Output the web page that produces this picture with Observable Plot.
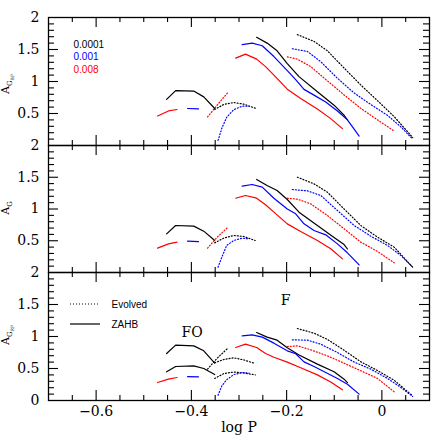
<!DOCTYPE html>
<html><head><meta charset="utf-8">
<script src="https://cdn.jsdelivr.net/npm/d3@7"></script>
<script src="https://cdn.jsdelivr.net/npm/@observablehq/plot@0.6"></script>
<style>
body{margin:0;background:#fff}
#chart{position:relative;width:436px;height:444px;background:#fff}
#chart svg{position:absolute;left:0}
</style></head><body><div id="chart"></div>
<script>
// ---------- categories ----------
const metallicities = ["0.0001", "0.001", "0.008"];
const colours = ["#000000", "#0000ff", "#ff0000"];

// ---------- axis ticks ----------
const xTickLabels = [-0.6, -0.4, -0.2, 0];
const xMinorTicks = [-0.65, -0.55, -0.5, -0.45, -0.35, -0.3, -0.25, -0.15, -0.1, -0.05, 0.05];
const yMajorTicks = [0.5, 1, 1.5];
const yMinorTicks = [0.1, 0.2, 0.3, 0.4, 0.6, 0.7, 0.8, 0.9, 1.1, 1.2, 1.3, 1.4, 1.6, 1.7, 1.8, 1.9];
const yLabelsUpper = [0.5, 1, 1.5, 2];
const yLabelsBottom = [0, 0.5, 1, 1.5, 2];

// ---------- FO mode ----------
// ZAHB, Z=0.0001
const logP_FO_ZAHB_0001 = [-0.452, -0.433, -0.395, -0.374, -0.351];
const ABP_FO_ZAHB_0001 = [0.72, 0.858, 0.85, 0.76, 0.578];
const AG_FO_ZAHB_0001 = [0.609, 0.74, 0.73, 0.651, 0.504];
const ARP_FO_ZAHB_0001 = [0.734, 0.865, 0.854, 0.776, 0.583];
const ARP_FO_ZAHB_0001_b = [0.448, 0.531, 0.542, 0.5, 0.406];
// ZAHB, Z=0.001
const logP_FO_ZAHB_001 = [-0.408, -0.385];
const ABP_FO_ZAHB_001 = [0.578, 0.572];
const AG_FO_ZAHB_001 = [0.493, 0.485];
const ARP_FO_ZAHB_001 = [0.372, 0.370];
// ZAHB, Z=0.008
const logP_FO_ZAHB_008 = [-0.471, -0.448, -0.430];
const ABP_FO_ZAHB_008 = [0.461, 0.54, 0.562];
const AG_FO_ZAHB_008 = [0.383, 0.451, 0.478];
const ARP_FO_ZAHB_008 = [0.281, 0.333, 0.359];
// Evolved, Z=0.0001
const logP_FO_EVOL_0001 = [-0.351, -0.332, -0.311, -0.29, -0.266];
const ABP_FO_EVOL_0001 = [0.562, 0.641, 0.672, 0.646, 0.583];
const AG_FO_EVOL_0001 = [0.467, 0.541, 0.583, 0.567, 0.504];
const ARP_FO_EVOL_0001 = [0.59, 0.64, 0.667, 0.634, 0.578];
const ARP_FO_EVOL_0001_b = [0.344, 0.42, 0.445, 0.43, 0.401];
// Evolved, Z=0.001
const logP_FO_EVOL_001 = [-0.344, -0.336, -0.326, -0.311, -0.293, -0.279];
const ABP_FO_EVOL_001 = [0.08, 0.27, 0.44, 0.56, 0.615, 0.612];
const AG_FO_EVOL_001 = [0.084, 0.241, 0.425, 0.504, 0.541, 0.53];
const ARP_FO_EVOL_001 = [0.083, 0.229, 0.323, 0.405, 0.437, 0.427];
// Evolved, Z=0.008
const logP_FO_EVOL_008 = [-0.366, -0.346, -0.323];
const ABP_FO_EVOL_008 = [0.446, 0.63, 0.83];
const AG_FO_EVOL_008 = [0.383, 0.556, 0.714];
const ARP_FO_EVOL_008 = [0.49, 0.66, 0.82];

// ---------- F mode ----------
const logP_F_ZAHB_0001 = [-0.263, -0.241, -0.220, -0.1986, -0.174, -0.1354, -0.1004, -0.0793, -0.0723];
const ABP_F_ZAHB_0001 = [1.69, 1.60, 1.48, 1.28, 1.076, 0.84, 0.63, 0.472, 0.40];
const AG_F_ZAHB_0001 = [1.465, 1.37, 1.291, 1.15, 0.95, 0.74, 0.55, 0.44, 0.37];
const ARP_F_ZAHB_0001 = [1.0625, 0.99, 0.943, 0.825, 0.71, 0.568, 0.448, 0.333, 0.28];

const logP_F_ZAHB_001 = [-0.2933, -0.2723, -0.2512, -0.2267, -0.1986, -0.181, -0.1635, -0.1425, -0.1179, -0.0933, -0.0723, -0.0477];
const ABP_F_ZAHB_001 = [1.575, 1.60, 1.559, 1.39, 1.17, 1.03, 0.877, 0.787, 0.68, 0.54, 0.40, 0.147];
const AG_F_ZAHB_001 = [1.36, 1.386, 1.344, 1.17, 1.0, 0.924, 0.766, 0.661, 0.593, 0.451, 0.31, 0.121];
const ARP_F_ZAHB_001 = [1.01, 1.026, 0.99, 0.896, 0.776, 0.73, 0.604, 0.531, 0.4375, 0.344, 0.255, 0.099];

const logP_F_ZAHB_008 = [-0.307, -0.2863, -0.263, -0.2442, -0.2267, -0.1986, -0.1705, -0.1354, -0.1074, -0.0828];
const ABP_F_ZAHB_008 = [1.365, 1.428, 1.35, 1.233, 1.10, 0.88, 0.735, 0.57, 0.42, 0.263];
const AG_F_ZAHB_008 = [1.17, 1.213, 1.17, 1.066, 0.95, 0.766, 0.646, 0.504, 0.373, 0.215];
const ARP_F_ZAHB_008 = [0.828, 0.880, 0.828, 0.735, 0.675, 0.60, 0.511, 0.40, 0.29, 0.167];

const logP_F_EVOL_0001 = [-0.1775, -0.1425, -0.1144, -0.0793, -0.0442, -0.0091, 0.026, 0.0646];
const ABP_F_EVOL_0001 = [1.732, 1.627, 1.48, 1.21, 0.945, 0.70, 0.45, 0.125];
const AG_F_EVOL_0001 = [1.501, 1.396, 1.265, 1.0, 0.74, 0.556, 0.399, 0.084];
const ARP_F_EVOL_0001 = [1.125, 1.052, 0.955, 0.785, 0.605, 0.468, 0.315, 0.073];

const logP_F_EVOL_001 = [-0.188, -0.1565, -0.1284, -0.0933, -0.0582, -0.0232, 0.012, 0.04, 0.0646];
const ABP_F_EVOL_001 = [1.512, 1.47, 1.31, 1.05, 0.82, 0.64, 0.47, 0.29, 0.10];
const AG_F_EVOL_001 = [1.307, 1.286, 1.213, 0.976, 0.74, 0.572, 0.425, 0.268, 0.084];
const ARP_F_EVOL_001 = [0.948, 0.943, 0.88, 0.75, 0.6, 0.49, 0.344, 0.203, 0.0625];

const logP_F_EVOL_008 = [-0.1986, -0.1775, -0.1495, -0.1144, -0.0793, -0.0442, -0.0091, 0.026];
const ABP_F_EVOL_008 = [1.385, 1.35, 1.233, 1.01, 0.79, 0.58, 0.40, 0.225];
const AG_F_EVOL_008 = [1.17, 1.155, 1.081, 0.898, 0.688, 0.478, 0.331, 0.152];
const ARP_F_EVOL_008 = [0.844, 0.854, 0.792, 0.698, 0.583, 0.464, 0.344, 0.135];

// ---------- annotations ----------
const modeLabels = ["FO", "F"];
const modeLabelLogP = [-0.3986, -0.2021];
const modeLabelAmp = [1.065, 1.557];

// ---------- build table ----------
const table = [];
function addSeq(id, band, metal, kind, logP, amp) {
  logP.forEach((x, i) => table.push({seq: id + band, band, metal, kind, logP: x, amp: amp[i]}));
}
addSeq("FOZ1", "BP", "0.0001", "ZAHB", logP_FO_ZAHB_0001, ABP_FO_ZAHB_0001);
addSeq("FOZ1", "G", "0.0001", "ZAHB", logP_FO_ZAHB_0001, AG_FO_ZAHB_0001);
addSeq("FOZ1", "RP", "0.0001", "ZAHB", logP_FO_ZAHB_0001, ARP_FO_ZAHB_0001);
addSeq("FOZ1b", "RP", "0.0001", "ZAHB", logP_FO_ZAHB_0001, ARP_FO_ZAHB_0001_b);
addSeq("FOZ2", "BP", "0.001", "ZAHB", logP_FO_ZAHB_001, ABP_FO_ZAHB_001);
addSeq("FOZ2", "G", "0.001", "ZAHB", logP_FO_ZAHB_001, AG_FO_ZAHB_001);
addSeq("FOZ2", "RP", "0.001", "ZAHB", logP_FO_ZAHB_001, ARP_FO_ZAHB_001);
addSeq("FOZ3", "BP", "0.008", "ZAHB", logP_FO_ZAHB_008, ABP_FO_ZAHB_008);
addSeq("FOZ3", "G", "0.008", "ZAHB", logP_FO_ZAHB_008, AG_FO_ZAHB_008);
addSeq("FOZ3", "RP", "0.008", "ZAHB", logP_FO_ZAHB_008, ARP_FO_ZAHB_008);
addSeq("FOE1", "BP", "0.0001", "Evolved", logP_FO_EVOL_0001, ABP_FO_EVOL_0001);
addSeq("FOE1", "G", "0.0001", "Evolved", logP_FO_EVOL_0001, AG_FO_EVOL_0001);
addSeq("FOE1", "RP", "0.0001", "Evolved", logP_FO_EVOL_0001, ARP_FO_EVOL_0001);
addSeq("FOE1b", "RP", "0.0001", "Evolved", logP_FO_EVOL_0001, ARP_FO_EVOL_0001_b);
addSeq("FOE2", "BP", "0.001", "Evolved", logP_FO_EVOL_001, ABP_FO_EVOL_001);
addSeq("FOE2", "G", "0.001", "Evolved", logP_FO_EVOL_001, AG_FO_EVOL_001);
addSeq("FOE2", "RP", "0.001", "Evolved", logP_FO_EVOL_001, ARP_FO_EVOL_001);
addSeq("FOE3", "BP", "0.008", "Evolved", logP_FO_EVOL_008, ABP_FO_EVOL_008);
addSeq("FOE3", "G", "0.008", "Evolved", logP_FO_EVOL_008, AG_FO_EVOL_008);
addSeq("FOE3", "RP", "0.0001", "Evolved", logP_FO_EVOL_008, ARP_FO_EVOL_008); // drawn black in the RP panel
addSeq("FZ1", "BP", "0.0001", "ZAHB", logP_F_ZAHB_0001, ABP_F_ZAHB_0001);
addSeq("FZ1", "G", "0.0001", "ZAHB", logP_F_ZAHB_0001, AG_F_ZAHB_0001);
addSeq("FZ1", "RP", "0.0001", "ZAHB", logP_F_ZAHB_0001, ARP_F_ZAHB_0001);
addSeq("FZ2", "BP", "0.001", "ZAHB", logP_F_ZAHB_001, ABP_F_ZAHB_001);
addSeq("FZ2", "G", "0.001", "ZAHB", logP_F_ZAHB_001, AG_F_ZAHB_001);
addSeq("FZ2", "RP", "0.001", "ZAHB", logP_F_ZAHB_001, ARP_F_ZAHB_001);
addSeq("FZ3", "BP", "0.008", "ZAHB", logP_F_ZAHB_008, ABP_F_ZAHB_008);
addSeq("FZ3", "G", "0.008", "ZAHB", logP_F_ZAHB_008, AG_F_ZAHB_008);
addSeq("FZ3", "RP", "0.008", "ZAHB", logP_F_ZAHB_008, ARP_F_ZAHB_008);
addSeq("FE1", "BP", "0.0001", "Evolved", logP_F_EVOL_0001, ABP_F_EVOL_0001);
addSeq("FE1", "G", "0.0001", "Evolved", logP_F_EVOL_0001, AG_F_EVOL_0001);
addSeq("FE1", "RP", "0.0001", "Evolved", logP_F_EVOL_0001, ARP_F_EVOL_0001);
addSeq("FE2", "BP", "0.001", "Evolved", logP_F_EVOL_001, ABP_F_EVOL_001);
addSeq("FE2", "G", "0.001", "Evolved", logP_F_EVOL_001, AG_F_EVOL_001);
addSeq("FE2", "RP", "0.001", "Evolved", logP_F_EVOL_001, ARP_F_EVOL_001);
addSeq("FE3", "BP", "0.008", "Evolved", logP_F_EVOL_008, ABP_F_EVOL_008);
addSeq("FE3", "G", "0.008", "Evolved", logP_F_EVOL_008, AG_F_EVOL_008);
addSeq("FE3", "RP", "0.008", "Evolved", logP_F_EVOL_008, ARP_F_EVOL_008);

const modeTable = modeLabels.map((t, i) => ({label: t, logP: modeLabelLogP[i], amp: modeLabelAmp[i]}));

// ---------- layout ----------
const W = 436, ML = 48, MR = 7, FW = W - ML - MR;
const panels = [
  {band: "BP", top: 17, bottom: 145, yLabels: yLabelsUpper, sub2: "BP", labelY: 84},
  {band: "G", top: 145, bottom: 272, yLabels: yLabelsUpper, sub2: null, labelY: 208},
  {band: "RP", top: 272, bottom: 400, yLabels: yLabelsBottom, sub2: "RP", labelY: 335, last: true}
];
const fmtX = d => d === 0 ? "0" : (d < 0 ? "\u2212" + Math.abs(d) : String(d));
const chart = document.getElementById("chart");

for (const p of panels) {
  const fh = p.bottom - p.top;
  const mt = 14, mb = p.last ? 44 : 14;
  const rows = table.filter(d => d.band === p.band);
  const sans = "Liberation Sans, Arial, sans-serif";
  const marks = [
    Plot.tickX(xTickLabels, {x: d => d, insetBottom: fh - 10, strokeWidth: 1.1}),
    Plot.tickX(xTickLabels, {x: d => d, insetTop: fh - 10, strokeWidth: 1.1}),
    Plot.tickX(xMinorTicks, {x: d => d, insetBottom: fh - 5, strokeWidth: 1.1}),
    Plot.tickX(xMinorTicks, {x: d => d, insetTop: fh - 5, strokeWidth: 1.1}),
    Plot.tickY(yMajorTicks, {y: d => d, insetRight: FW - 10, strokeWidth: 1.1}),
    Plot.tickY(yMajorTicks, {y: d => d, insetLeft: FW - 10, strokeWidth: 1.1}),
    Plot.tickY(yMinorTicks, {y: d => d, insetRight: FW - 6, strokeWidth: 1.1}),
    Plot.tickY(yMinorTicks, {y: d => d, insetLeft: FW - 6, strokeWidth: 1.1}),
    Plot.frame({stroke: "black", strokeWidth: 1.3}),
    Plot.axisY({ticks: p.yLabels, tickSize: 0, tickPadding: 9, tickFormat: d => String(d), fontSize: 14, label: null}),
    Plot.line(rows.filter(d => d.kind === "ZAHB"), {x: "logP", y: "amp", z: "seq", stroke: "metal", strokeWidth: 1.2}),
    Plot.line(rows.filter(d => d.kind === "Evolved"), {x: "logP", y: "amp", z: "seq", stroke: "metal", strokeWidth: 1.2, strokeDasharray: "1,2"})
  ];
  if (p.band === "BP") {
    metallicities.forEach((m, i) => marks.push(
      Plot.text([m], {frameAnchor: "top-left", dx: 25, dy: 23 + 12.5 * i, fill: colours[i], textAnchor: "start", fontFamily: sans, fontSize: 10})
    ));
  }
  if (p.last) {
    marks.push(
      Plot.text(["Evolved"], {frameAnchor: "top-left", dx: 63, dy: 28.5, textAnchor: "start", fontFamily: sans, fontSize: 10}),
      Plot.text(["ZAHB"], {frameAnchor: "top-left", dx: 63, dy: 48.5, textAnchor: "start", fontFamily: sans, fontSize: 10}),
      Plot.text(modeTable, {x: "logP", y: "amp", text: "label", fontSize: 14}),
      Plot.axisX({ticks: xTickLabels, tickSize: 0, tickPadding: 6, tickFormat: fmtX, fontSize: 14, label: null}),
      Plot.text(["log P"], {frameAnchor: "bottom", dy: 31, fontSize: 14})
    );
  }
  const svg = Plot.plot({
    width: W, height: fh + mt + mb,
    marginLeft: ML, marginRight: MR, marginTop: mt, marginBottom: mb,
    x: {domain: [-0.7, 0.1], axis: p.last ? undefined : null, label: null},
    y: {domain: [0, 2], label: null},
    color: {domain: metallicities, range: colours},
    style: {background: "transparent", overflow: "visible", fontFamily: "DejaVu Serif, serif", color: "black"},
    marks
  });
  svg.style.top = (p.top - mt) + "px";
  const s = d3.select(svg);
  // y-axis label with subscripts
  const t = s.append("text")
    .attr("transform", `translate(8.5,${p.labelY - p.top + mt}) rotate(-90)`)
    .attr("text-anchor", "middle")
    .attr("font-family", "DejaVu Serif, serif")
    .attr("font-size", 11)
    .attr("fill", "black");
  t.append("tspan").text("A");
  t.append("tspan").attr("dy", 3.5).attr("font-size", 7).text("G");
  if (p.sub2) t.append("tspan").attr("dy", 1.5).attr("font-size", 4.5).text(p.sub2);
  if (p.last) {
    s.append("line").attr("x1", 70).attr("x2", 100).attr("y1", mt + 32).attr("y2", mt + 32)
      .attr("stroke", "black").attr("stroke-width", 1.2).attr("stroke-dasharray", "1,2");
    s.append("line").attr("x1", 70).attr("x2", 100).attr("y1", mt + 52).attr("y2", mt + 52)
      .attr("stroke", "black").attr("stroke-width", 1.2);
  }
  chart.appendChild(svg);
}
</script></body></html>
